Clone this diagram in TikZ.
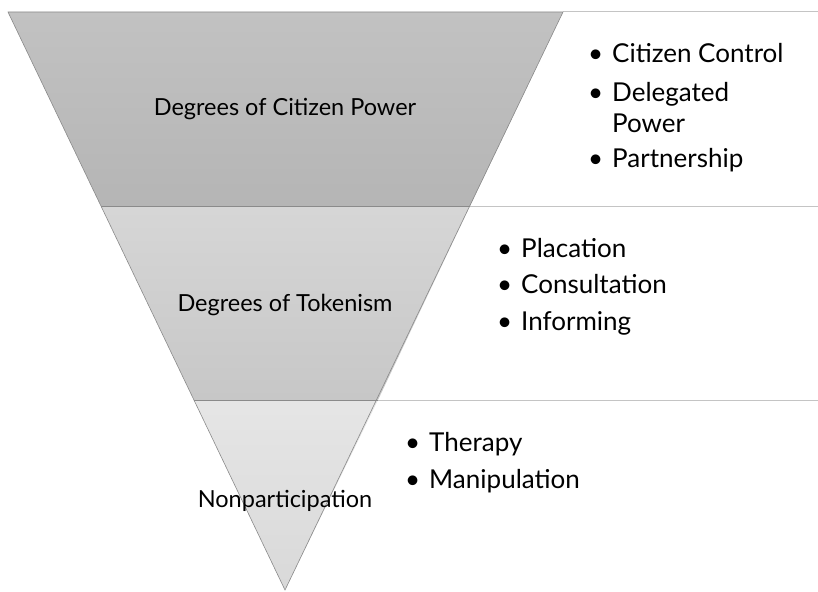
\documentclass[tikz,border=0pt]{standalone}
\usepackage{fontspec}
\setmainfont{Lato}
\usetikzlibrary{positioning}

\definecolor{edgegray}{HTML}{8A8A8A}
\definecolor{rulegray}{HTML}{C4C4C4}
\tikzstyle{band}=[draw=edgegray, line width=0.6pt]
\tikzstyle{rule}=[draw=rulegray, line width=1pt]
\tikzstyle{bandlabel}=[anchor=base, inner sep=0pt, font=\fontsize{23.5}{28}\selectfont]
\tikzstyle{itemlist}=[anchor=base west, inner sep=0pt, align=left, font=\fontsize{26}{36.5}\selectfont]

\newcommand{\bul}{\makebox[24pt][l]{\textbullet}}

\begin{document}
\begin{tikzpicture}[x=1pt, y=-1pt]
  \useasboundingbox (0,0) rectangle (818,591);
  % funnel corners
  \coordinate (tl) at (8,12);    \coordinate (tr) at (563,12);
  \coordinate (ml) at (101,206); \coordinate (mr) at (470,206);
  \coordinate (ll) at (194,400); \coordinate (lr) at (378,400);
  \coordinate (tip) at (285,590);
  \coordinate (e1) at (818,12);
  \coordinate (e2) at (818,206);
  \coordinate (e3) at (818,400);

  % rules out to the right
  \draw[rule] (tr) -- (e1);
  \draw[rule] (mr) -- (e2);
  \draw[rule] (lr) -- (e3);

  % the three bands
  \shade[top color=black!24, bottom color=black!29] (tl) -- (tr) -- (mr) -- (ml) -- cycle;
  \shade[top color=black!16, bottom color=black!22] (ml) -- (mr) -- (lr) -- (ll) -- cycle;
  \shade[top color=black!10, bottom color=black!15] (ll) -- (lr) -- (tip) -- cycle;
  \draw[band] (tl) -- (tr) -- (tip) -- cycle;
  \draw[band] (ml) -- (mr);
  \draw[band] (ll) -- (lr);

  \node[bandlabel] (power) at (285,116) {Degrees of Citizen Power};
  \node[bandlabel] (token) at (285,311) {Degrees of Tokenism};
  \node[bandlabel] (nonpart) at (285,507) {Nonparticipation};

  % lists, placed by the baseline of their last line
  \node[itemlist] (powerlist) at (588,167) {\bul Citizen Control\\[2pt]
    \bul Delegated\\[-5.5pt]
    \hspace*{24pt}Power\\[-1.5pt]
    \bul Partnership};
  \node[itemlist] (tokenlist) at (497,330) {\bul Placation\\ \bul Consultation\\ \bul Informing};
  \node[itemlist] (nonlist) at (405,488) {\bul Therapy\\ \bul Manipulation};
\end{tikzpicture}
\end{document}
